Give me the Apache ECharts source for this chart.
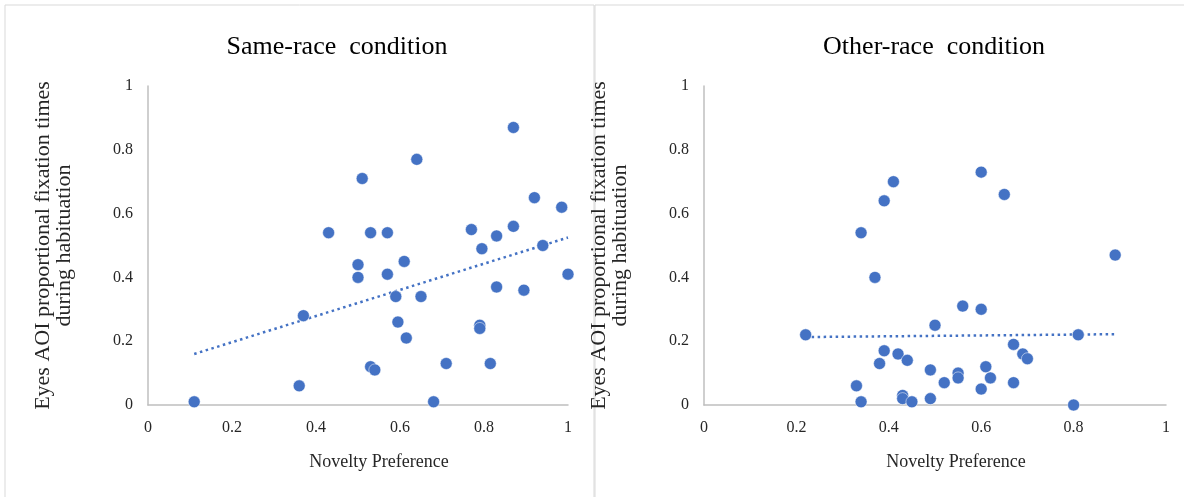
<!DOCTYPE html>
<html>
<head>
<meta charset="utf-8">
<script src="https://cdn.jsdelivr.net/npm/echarts@6/dist/echarts.min.js"></script>
<style>
  html, body { margin: 0; padding: 0; background: #fff; }
  #chart { width: 1184px; height: 497px; }
</style>
</head>
<body>
<div id="chart"></div>
<script>
// novelty preference (x) vs eyes AOI proportion (y)
const samePoints = [
  [0.11, 0.01], [0.36, 0.06], [0.37, 0.28], [0.43, 0.54], [0.51, 0.71],
  [0.50, 0.44], [0.50, 0.40], [0.53, 0.54], [0.53, 0.12], [0.54, 0.11],
  [0.57, 0.54], [0.57, 0.41], [0.59, 0.34], [0.61, 0.45], [0.65, 0.34],
  [0.595, 0.26], [0.615, 0.21], [0.64, 0.77], [0.71, 0.13], [0.68, 0.01],
  [0.77, 0.55], [0.795, 0.49], [0.83, 0.53], [0.87, 0.56], [0.87, 0.87],
  [0.92, 0.65], [0.985, 0.62], [0.94, 0.50], [1.0, 0.41], [0.83, 0.37],
  [0.895, 0.36], [0.79, 0.25], [0.79, 0.24], [0.815, 0.13]
];
const otherPoints = [
  [0.22, 0.22], [0.41, 0.70], [0.39, 0.64], [0.34, 0.54], [0.37, 0.40],
  [0.50, 0.25], [0.39, 0.17], [0.42, 0.16], [0.44, 0.14], [0.38, 0.13],
  [0.49, 0.11], [0.33, 0.06], [0.34, 0.01], [0.43, 0.03], [0.43, 0.02],
  [0.45, 0.01], [0.49, 0.02], [0.60, 0.73], [0.65, 0.66], [0.89, 0.47],
  [0.56, 0.31], [0.60, 0.30], [0.81, 0.22], [0.67, 0.19], [0.69, 0.16],
  [0.70, 0.145], [0.61, 0.12], [0.55, 0.10], [0.55, 0.085], [0.52, 0.07],
  [0.62, 0.085], [0.67, 0.07], [0.60, 0.05], [0.80, 0.0]
];
// linear trendline end points
const sameTrend = [[0.11, 0.16], [1.0, 0.525]];
const otherTrend = [[0.22, 0.213], [0.89, 0.222]];

const titles = ['Same-race  condition', 'Other-race  condition'];
const xName = 'Novelty Preference';
const yName = 'Eyes AOI proportional fixation times\nduring habituation';

const serif = '"Liberation Serif", "Times New Roman", serif';
const blue = '#4472C4';
const axisGrey = '#BFBFBF';

const chart = echarts.init(document.getElementById('chart'));

function xAx(i) {
  return {
    type: 'value', gridIndex: i, min: 0, max: 1, interval: 0.2,
    name: xName, nameLocation: 'middle', nameGap: 48,
    nameTextStyle: { fontFamily: serif, fontSize: 18, color: '#262626', padding: [0, 0, 0, 42] },
    axisLine: { show: true, lineStyle: { color: axisGrey, width: 1.5 } },
    axisTick: { show: false },
    axisLabel: { fontFamily: serif, fontSize: 16, color: '#262626', margin: 15 },
    splitLine: { show: false }
  };
}
function yAx(i) {
  return {
    type: 'value', gridIndex: i, min: 0, max: 1, interval: 0.2,
    name: yName, nameLocation: 'middle', nameGap: 73,
    nameTextStyle: { fontFamily: serif, fontSize: 22, color: '#262626', lineHeight: 21 },
    axisLine: { show: true, lineStyle: { color: axisGrey, width: 1.5 } },
    axisTick: { show: false },
    axisLabel: { fontFamily: serif, fontSize: 16, color: '#262626', margin: 15 },
    splitLine: { show: false }
  };
}

chart.setOption({
  animation: false,
  backgroundColor: '#fff',
  graphic: [
    { type: 'rect', shape: { x: 5, y: 5, width: 589, height: 500 }, style: { fill: 'none', stroke: '#D9D9D9', lineWidth: 1 } },
    { type: 'rect', shape: { x: 595, y: 5, width: 600, height: 500 }, style: { fill: 'none', stroke: '#D9D9D9', lineWidth: 1 } }
  ],
  title: [
    { text: titles[0], left: 332, top: 29, textAlign: 'center',
      textStyle: { fontFamily: serif, fontSize: 26, fontWeight: 'normal', color: '#000' } },
    { text: titles[1], left: 929, top: 29, textAlign: 'center',
      textStyle: { fontFamily: serif, fontSize: 26, fontWeight: 'normal', color: '#000' } }
  ],
  grid: [
    { left: 148, width: 420, top: 86, height: 319 },
    { left: 704, width: 462, top: 86, height: 319 }
  ],
  xAxis: [xAx(0), xAx(1)],
  yAxis: [yAx(0), yAx(1)],
  series: [
    { type: 'line', xAxisIndex: 0, yAxisIndex: 0, data: sameTrend, symbol: 'none',
      lineStyle: { color: blue, width: 2.5, type: [2.5, 3.5] }, z: 1 },
    { type: 'scatter', xAxisIndex: 0, yAxisIndex: 0, data: samePoints, symbolSize: 12,
      itemStyle: { color: blue, opacity: 1, borderColor: '#fff', borderWidth: 0.5 }, z: 2 },
    { type: 'line', xAxisIndex: 1, yAxisIndex: 1, data: otherTrend, symbol: 'none',
      lineStyle: { color: blue, width: 2.5, type: [2.5, 3.5] }, z: 1 },
    { type: 'scatter', xAxisIndex: 1, yAxisIndex: 1, data: otherPoints, symbolSize: 12,
      itemStyle: { color: blue, opacity: 1, borderColor: '#fff', borderWidth: 0.5 }, z: 2 }
  ]
});
</script>
</body>
</html>
